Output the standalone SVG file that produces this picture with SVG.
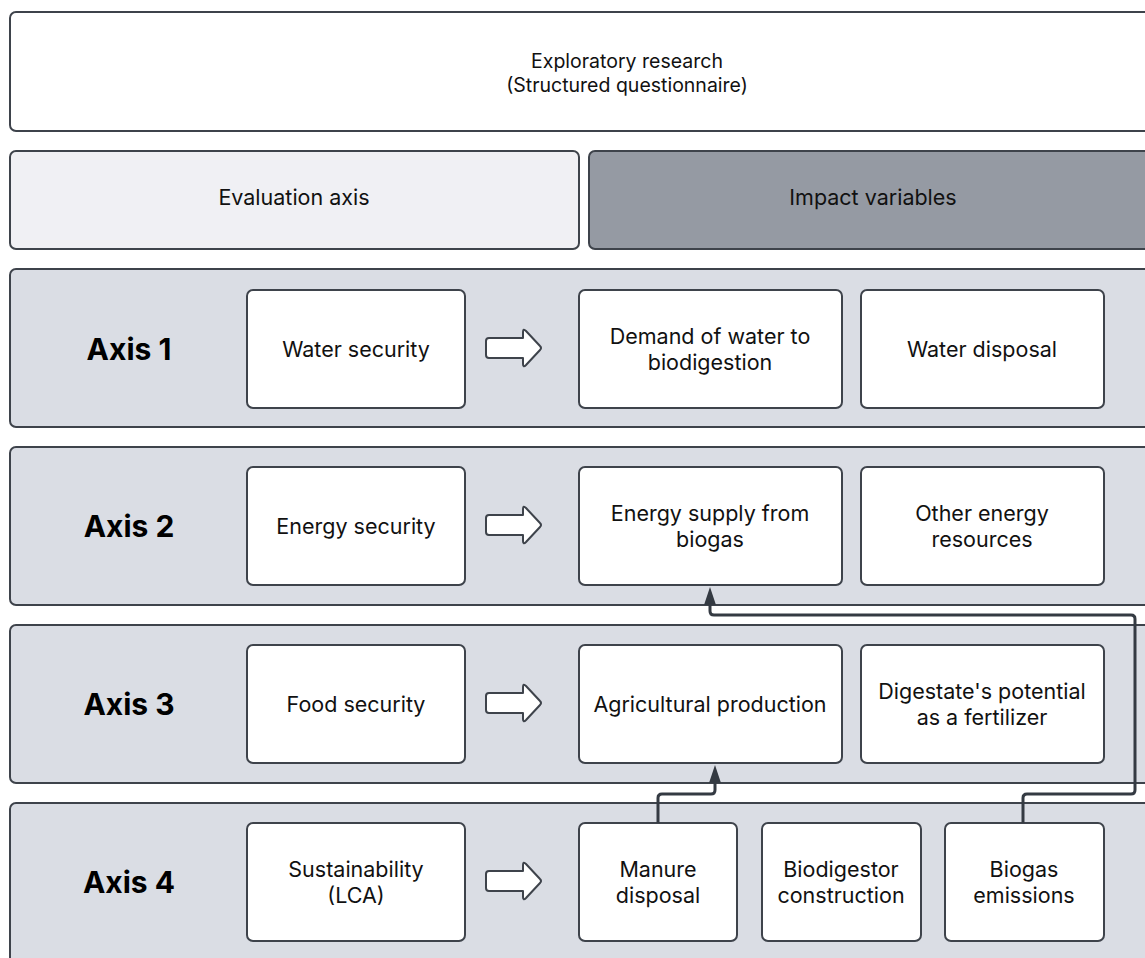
<svg xmlns="http://www.w3.org/2000/svg" width="1145" height="958" viewBox="0 0 1145 958">
<defs>
<style>
.frame{stroke:#3e434b;stroke-width:2}
.top{fill:#ffffff}
.eval{fill:#f0f0f4}
.imp{fill:#959aa3}
.row{fill:#dadde4}
.box{fill:#ffffff;stroke:#3e434b;stroke-width:2}
.t{font-family:Inter,"Liberation Sans",sans-serif;font-size:21.5px;fill:#111;text-anchor:middle;dominant-baseline:central}
.h{font-size:19.5px}
.ax{font-family:Inter,"Liberation Sans",sans-serif;font-size:30px;font-weight:700;fill:#000;text-anchor:middle;dominant-baseline:central}
.conn{fill:none;stroke:#343a42;stroke-width:3;stroke-linejoin:round}
.barrow{fill:#fff;stroke:#3e434b;stroke-width:2;stroke-linejoin:round}
</style>
<marker id="ah" viewBox="0 0 18 12" refX="7" refY="6" markerWidth="18" markerHeight="12" orient="auto" markerUnits="userSpaceOnUse">
<path d="M0,0 L18,6 L0,12 z" fill="#343a42"/>
</marker>
<path id="blk" d="M489,338 H523 V332 Q523,328 526,331 L540,346 Q542,348 540,350 L526,365 Q523,368 523,364 V358 H489 Q486,358 486,355 V341 Q486,338 489,338 Z"/>
</defs>
<rect width="1145" height="958" fill="#ffffff"/>
<g id="header">
<rect class="frame top" x="10" y="12" width="1240" height="119" rx="6"/>
<text class="t h" x="627" y="61">Exploratory research</text>
<text class="t h" x="627" y="85">(Structured questionnaire)</text>
</g>
<g id="evaluation-axis">
<rect class="frame eval" x="10" y="151" width="569" height="98" rx="6"/>
<text class="t" x="294" y="197">Evaluation axis</text>
</g>
<g id="impact-variables">
<rect class="frame imp" x="589" y="151" width="600" height="98" rx="6"/>
<text class="t" x="873" y="197">Impact variables</text>
</g>
<g id="axis1">
<rect class="frame row" x="10" y="269" width="1200" height="158" rx="6"/>
<text class="ax" x="129" y="349">Axis 1</text>
</g>
<g id="axis2">
<rect class="frame row" x="10" y="447" width="1200" height="158" rx="6"/>
<text class="ax" x="129" y="526">Axis 2</text>
</g>
<g id="axis3">
<rect class="frame row" x="10" y="625" width="1200" height="158" rx="6"/>
<text class="ax" x="129" y="704">Axis 3</text>
</g>
<g id="axis4">
<rect class="frame row" x="10" y="803" width="1200" height="200" rx="6"/>
<text class="ax" x="129" y="882">Axis 4</text>
</g>
<g id="water-security"><rect class="box" x="247" y="290" width="218" height="118" rx="6"/><text class="t" x="356" y="349">Water security</text></g>
<g id="energy-security"><rect class="box" x="247" y="467" width="218" height="118" rx="6"/><text class="t" x="356" y="526">Energy security</text></g>
<g id="food-security"><rect class="box" x="247" y="645" width="218" height="118" rx="6"/><text class="t" x="356" y="704">Food security</text></g>
<g id="sustainability"><rect class="box" x="247" y="823" width="218" height="118" rx="6"/><text class="t" x="356" y="869">Sustainability</text><text class="t" x="356" y="895">(LCA)</text></g>
<g id="block-arrows">
<use href="#blk" class="barrow"/>
<use href="#blk" class="barrow" transform="translate(0,177)"/>
<use href="#blk" class="barrow" transform="translate(0,355)"/>
<use href="#blk" class="barrow" transform="translate(0,533)"/>
</g>
<g id="demand-water"><rect class="box" x="579" y="290" width="263" height="118" rx="6"/><text class="t" x="710" y="336">Demand of water to</text><text class="t" x="710" y="362">biodigestion</text></g>
<g id="water-disposal"><rect class="box" x="861" y="290" width="243" height="118" rx="6"/><text class="t" x="982" y="349">Water disposal</text></g>
<g id="energy-supply"><rect class="box" x="579" y="467" width="263" height="118" rx="6"/><text class="t" x="710" y="513">Energy supply from</text><text class="t" x="710" y="539">biogas</text></g>
<g id="other-energy"><rect class="box" x="861" y="467" width="243" height="118" rx="6"/><text class="t" x="982" y="513">Other energy</text><text class="t" x="982" y="539">resources</text></g>
<g id="agricultural"><rect class="box" x="579" y="645" width="263" height="118" rx="6"/><text class="t" x="710" y="704">Agricultural production</text></g>
<g id="digestate"><rect class="box" x="861" y="645" width="243" height="118" rx="6"/><text class="t" x="982" y="691">Digestate's potential</text><text class="t" x="982" y="717">as a fertilizer</text></g>
<g id="manure"><rect class="box" x="579" y="823" width="158" height="118" rx="6"/><text class="t" x="658" y="869">Manure</text><text class="t" x="658" y="895">disposal</text></g>
<g id="biodigestor"><rect class="box" x="762" y="823" width="159" height="118" rx="6"/><text class="t" x="841" y="869">Biodigestor</text><text class="t" x="841" y="895">construction</text></g>
<g id="biogas-emissions"><rect class="box" x="945" y="823" width="159" height="118" rx="6"/><text class="t" x="1024" y="869">Biogas</text><text class="t" x="1024" y="895">emissions</text></g>
<g id="connectors">
<path class="conn" d="M658,823 V798 Q658,794 662,794 H711 Q715,794 715,790 V776" marker-end="url(#ah)"/>
<path class="conn" d="M1023,823 V798 Q1023,794 1027,794 H1131 Q1135,794 1135,790 V619 Q1135,615 1131,615 H714 Q710,615 710,611 V598" marker-end="url(#ah)"/>
</g>
</svg>
